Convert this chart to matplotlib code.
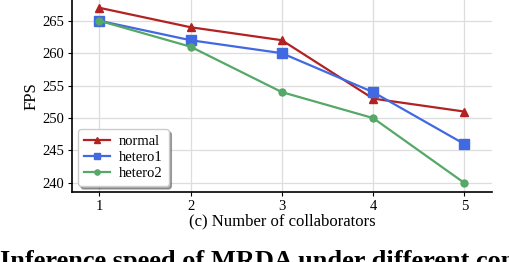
import matplotlib
matplotlib.use('Agg')
import matplotlib.pyplot as plt

# data
collaborators = [1, 2, 3, 4, 5]
normal = [267, 264, 262, 253, 251]
hetero1 = [265, 262, 260, 254, 246]
hetero2 = [265, 261, 254, 250, 240]
yticks = [240, 245, 250, 255, 260, 265]

plt.rcParams['font.family'] = ['Liberation Serif', 'DejaVu Serif']

fig = plt.figure(figsize=(5.10, 2.62), dpi=100)
ax = fig.add_axes([72.3/510, 1 - 192/262, (491.7-72.3)/510, 192/262])

ax.plot(collaborators, normal, '-^', color='#b22222', lw=1.6, ms=6, label='normal')
ax.plot(collaborators, hetero1, '-s', color='#4169e1', lw=1.6, ms=6.5, label='hetero1')
ax.plot(collaborators, hetero2, '-o', color='#55a868', lw=1.6, ms=5, label='hetero2')

ax.set_xlim(0.704, 5.3)
ax.set_ylim(238.6, 268.2)
ax.set_xticks(collaborators)
ax.set_yticks(yticks)
ax.tick_params(labelsize=10.5, length=3, width=0.8, pad=3)
ax.grid(True, color='#dddddd', lw=0.9)
ax.set_axisbelow(True)
for s in ['top', 'right']:
    ax.spines[s].set_visible(False)
ax.spines['left'].set_linewidth(1.2)
ax.spines['bottom'].set_linewidth(1.2)

ax.set_ylabel('FPS', fontsize=12, labelpad=2)
ax.set_xlabel('(c) Number of collaborators', fontsize=12, labelpad=0)

ax.legend(loc='lower left', fontsize=10.5, shadow=True, fancybox=True,
          handlelength=1.8, handletextpad=0.6, borderpad=0.4,
          labelspacing=0.2, markerscale=0.75, borderaxespad=0.4)

# caption below the panel, cut off by the figure edge as in the source
fig.text(0.006, 262 - 250, 'Inference speed of MRDA under different conditions',
         fontsize=19, fontweight='bold', ha='left', va='top',
         transform=None)

plt.savefig('out.png', dpi=100)
